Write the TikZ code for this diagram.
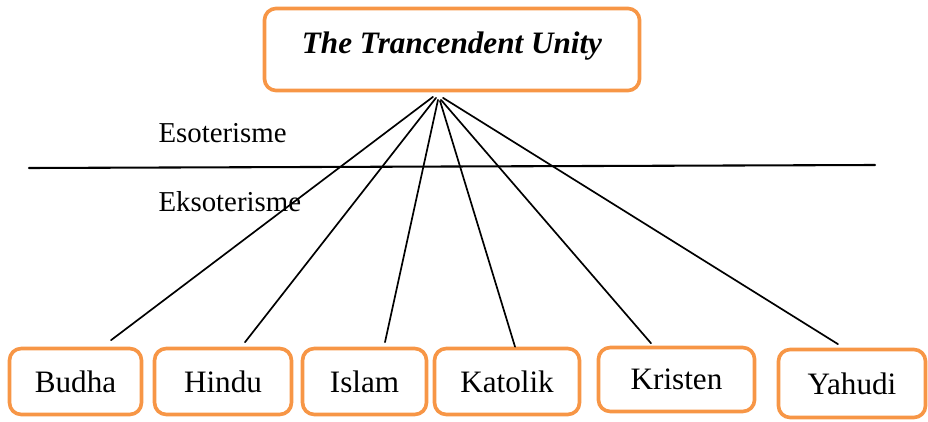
\documentclass[tikz,border=0pt]{standalone}
\usepackage{fontspec}
\setmainfont{Liberation Serif}
\usetikzlibrary{calc}
\definecolor{boxorange}{RGB}{247,150,70}

\begin{document}
\begin{tikzpicture}[x=0.385pt,y=-0.385pt,line cap=round,line join=round,
  faith/.style={draw=boxorange,line width=1.4pt,rounded corners=4.5pt,
    minimum height=25.4pt,inner sep=0pt,font=\fontsize{12}{14}\selectfont},
  link/.style={line width=0.65pt},
  side/.style={anchor=west,inner sep=0pt,font=\fontsize{11.1}{13}\selectfont}]
  \useasboundingbox (0,0) rectangle (928,422);
  % top box
  \node[faith,minimum width=144.4pt,minimum height=31.6pt,text depth=5.5pt,
    font=\fontsize{12}{14}\selectfont\bfseries\itshape] (unity) at (452,49.5) {The Trancendent Unity};
  % dividing line
  \coordinate (divL) at (29,168);
  \coordinate (divR) at (875,165);
  \draw[line width=0.8pt] (divL) -- (divR);
  \node[side] (eso) at (158,133) {Esoterisme};
  \node[side] (ekso) at (158,202) {Eksoterisme};
  % religions
  \node[faith,minimum width=50.8pt] (budha) at (75.5,381.5) {Budha};
  \node[faith,minimum width=52.7pt] (hindu) at (223,381.5) {Hindu};
  \node[faith,minimum width=47.7pt] (islam) at (364.5,381.5) {Islam};
  \node[faith,minimum width=55.8pt] (katolik) at (507,381.5) {Katolik};
  \node[faith,minimum width=60.1pt,minimum height=24.6pt] (kristen) at (676.5,379.5) {Kristen};
  \node[faith,minimum width=56.6pt,minimum height=26.2pt] (yahudi) at (852,383.5) {Yahudi};
  % links
  \foreach \name/\sx/\sy/\ex/\ey in {budha/-19/4.5/35.5/-6.5, hindu/-16/5.5/22/-4.5,
      islam/-14/7.5/20.5/-4.5, katolik/-12/8.5/8/0, kristen/-11/7.5/-25.5/-2.5,
      yahudi/-9/5.5/-14/-3.5}
    \draw[link] ($(unity.south)+(\sx,\sy)$) -- ($(\name.north)+(\ex,\ey)$);
\end{tikzpicture}
\end{document}
